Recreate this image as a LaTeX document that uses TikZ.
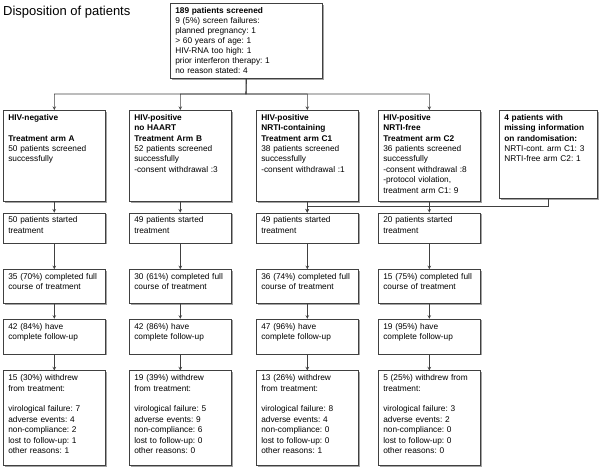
\documentclass[tikz,border=0pt]{standalone}
\usepackage{fontspec}
\setmainfont{Liberation Sans}
\frenchspacing
\usepackage{tikz}
\usetikzlibrary{arrows, positioning, shadows}
\tikzstyle{box} = [rectangle, draw=black!75, fill=white, line width=0.6pt, align=left, inner xsep=5pt, inner ysep=4pt, text height=6pt, font=\fontsize{8.3}{10.4}\selectfont, drop shadow={shadow xshift=1.2pt, shadow yshift=-1.2pt, fill=black!45, opacity=0.8}]
\tikzstyle{screen} = [box, text width=142pt, text depth=61pt, font=\fontsize{8.3}{10}\selectfont]
\tikzstyle{arm} = [box, text width=92pt, text depth=77pt]
\tikzstyle{missing} = [box, text width=88pt, text depth=74pt]
\tikzstyle{started} = [box, text width=92pt, text depth=16pt]
\tikzstyle{course} = [box, text width=92pt, text depth=20pt]
\tikzstyle{follow} = [box, text width=92pt, text depth=21pt]
\tikzstyle{withdrew} = [box, text width=92pt, text depth=81pt]
\tikzstyle{arrow} = [line width=0.6pt, draw=black!75, ->, >=stealth]

\begin{document}
\begin{tikzpicture}[x=1pt, y=-1pt]
\useasboundingbox (0,0) rectangle (600,467);
\node (title) [anchor=base west, inner sep=0pt, font=\fontsize{13}{15}\selectfont] at (3,15) {Disposition of patients};

\node (scr) [screen, anchor=north west] at (170,3) {\textbf{189 patients screened}\\9 (5\%) screen failures:\\planned pregnancy: 1\\> 60 years of age: 1\\HIV-RNA too high: 1\\prior interferon therapy: 1\\no reason stated: 4};

\node (armA) [arm, anchor=north west] at (3,110) {\textbf{HIV-negative}\\[10.4pt]\textbf{Treatment arm A}\\50 patients screened\\successfully};
\node (armB) [arm, anchor=north west] at (129,110) {\textbf{HIV-positive}\\\textbf{no HAART}\\\textbf{Treatment Arm B}\\52 patients screened\\successfully\\-consent withdrawal :3};
\node (armC1) [arm, anchor=north west] at (256,110) {\textbf{HIV-positive}\\\textbf{NRTI-containing}\\\textbf{Treatment arm C1}\\38 patients screened\\successfully\\-consent withdrawal :1};
\node (armC2) [arm, anchor=north west] at (378,110) {\textbf{HIV-positive}\\\textbf{NRTI-free}\\\textbf{Treatment arm C2}\\36 patients screened\\successfully\\-consent withdrawal :8\\-protocol violation,\\treatment arm C1: 9};
\node (miss) [missing, anchor=north west] at (499,110) {\textbf{4 patients with}\\\textbf{missing information}\\\textbf{on randomisation:}\\NRTI-cont. arm C1: 3\\NRTI-free arm C2: 1};

\node (startA) [started, below=11pt of armA] {50 patients started\\treatment};
\node (startB) [started, below=11pt of armB] {49 patients started\\treatment};
\node (startC1) [started, below=11pt of armC1] {49 patients started\\treatment};
\node (startC2) [started, below=11pt of armC2] {20 patients started\\treatment};

\node (courseA) [course, below=26pt of startA] {35 (70\%) completed full\\course of treatment};
\node (courseB) [course, below=26pt of startB] {30 (61\%) completed full\\course of treatment};
\node (courseC1) [course, below=26pt of startC1] {36 (74\%) completed full\\course of treatment};
\node (courseC2) [course, below=26pt of startC2] {15 (75\%) completed full\\course of treatment};

\node (followA) [follow, below=15pt of courseA] {42 (84\%) have\\complete follow-up};
\node (followB) [follow, below=15pt of courseB] {42 (86\%) have\\complete follow-up};
\node (followC1) [follow, below=15pt of courseC1] {47 (96\%) have\\complete follow-up};
\node (followC2) [follow, below=15pt of courseC2] {19 (95\%) have\\complete follow-up};

\node (withdrewA) [withdrew, below=16pt of followA] {15 (30\%) withdrew\\from treatment:\\[10.4pt]virological failure: 7\\adverse events: 4\\non-compliance: 2\\lost to follow-up: 1\\other reasons: 1};
\node (withdrewB) [withdrew, below=16pt of followB] {19 (39\%) withdrew\\from treatment:\\[10.4pt]virological failure: 5\\adverse events: 9\\non-compliance: 6\\lost to follow-up: 0\\other reasons: 0};
\node (withdrewC1) [withdrew, below=16pt of followC1] {13 (26\%) withdrew\\from treatment:\\[10.4pt]virological failure: 8\\adverse events: 4\\non-compliance: 0\\lost to follow-up: 0\\other reasons: 1};
\node (withdrewC2) [withdrew, below=16pt of followC2] {5 (25\%) withdrew from\\treatment:\\[10.4pt]virological failure: 3\\adverse events: 2\\non-compliance: 0\\lost to follow-up: 0\\other reasons: 0};

\coordinate (split) at (246,94);
\foreach \c in {A,B,C1,C2} {
  \draw [arrow] (scr.south) -- (split) -| (arm\c.north);
  \draw [arrow] (arm\c) -- (start\c);
  \draw [arrow] (start\c) -- (course\c);
  \draw [arrow] (course\c) -- (follow\c);
  \draw [arrow] (follow\c) -- (withdrew\c);
}
\draw [arrow] (miss.south) -- ++(0,8) -| (startC1.north);

\end{tikzpicture}
\end{document}
